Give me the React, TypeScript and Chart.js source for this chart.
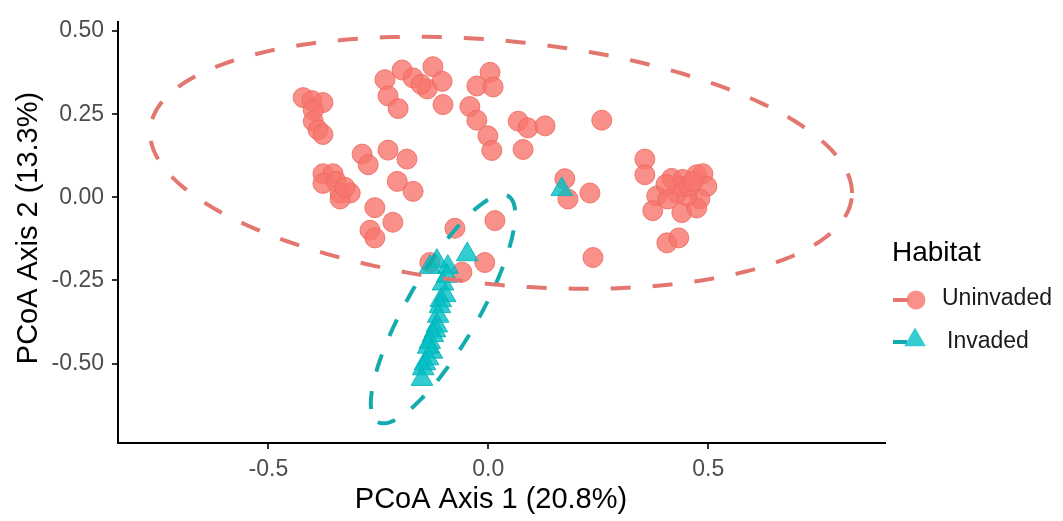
import React, { useEffect, useRef } from 'react';
import { Chart, registerables } from 'chart.js';

Chart.register(...registerables);

const SERIES = ['Uninvaded', 'Invaded'];
const LEGEND_TITLE = 'Habitat';
const X_TITLE = 'PCoA Axis 1 (20.8%)';
const Y_TITLE = 'PCoA Axis 2 (13.3%)';

const UNINVADED_X = [
  -0.421, -0.401, -0.376, -0.398, -0.398, -0.387, -0.376,
  -0.235, -0.196, -0.171, -0.139, -0.126, -0.105, -0.103, -0.228, -0.205,
  0.004, -0.026, 0.011, -0.042, -0.026, -0.001, 0.008, 0.068, 0.09, 0.129, 0.079, 0.258, -0.153,
  -0.287, -0.273, -0.228, -0.185, -0.376, -0.353, -0.376, -0.337, -0.314, -0.337, -0.207, -0.171,
  -0.258, -0.217, -0.269, -0.258, -0.076, 0.015, -0.008, -0.06, -0.133, -0.346, -0.326,
  0.174, 0.181, 0.231, 0.238, 0.356, 0.356,
  0.383, 0.374, 0.44, 0.406, 0.433, 0.417, 0.442, 0.474, 0.488, 0.497, 0.481, 0.474,
  0.452, 0.429, 0.408, 0.436, 0.458, 0.404, 0.465,
];
const UNINVADED_Y = [
  0.3, 0.291, 0.285, 0.262, 0.229, 0.203, 0.189,
  0.354, 0.383, 0.359, 0.326, 0.393, 0.349, 0.279, 0.305, 0.267,
  0.376, 0.335, 0.332, 0.273, 0.232, 0.185, 0.141, 0.229, 0.209, 0.215, 0.144, 0.232, 0.34,
  0.13, 0.098, 0.142, 0.115, 0.071, 0.071, 0.042, 0.013, 0.013, -0.005, 0.048, 0.018,
  -0.031, -0.075, -0.099, -0.122, -0.093, -0.07, -0.196, -0.225, -0.196, 0.048, 0.03,
  0.056, -0.005, 0.013, -0.181, 0.115, 0.068,
  0.004, -0.04, -0.046, -0.137, -0.122, 0.057, 0.054, 0.068, 0.071, 0.033, -0.005, -0.032,
  0.004, 0.013, -0.005, 0.033, 0.033, 0.039, 0.048,
];
const INVADED_X = [
  0.167, -0.048, -0.117, -0.092, -0.133, -0.094, -0.103, -0.098, -0.108, -0.11, -0.114,
  -0.117, -0.121, -0.126, -0.133, -0.128, -0.137, -0.137, -0.144, -0.148, -0.151,
];
const INVADED_Y = [
  0.024, -0.172, -0.192, -0.21, -0.21, -0.237, -0.26, -0.295, -0.31, -0.328, -0.357,
  -0.386, -0.401, -0.415, -0.436, -0.465, -0.45, -0.485, -0.5, -0.515, -0.547,
];

// 95% ellipses: [centre x, centre y, x·cos, x·sin, y·cos, y·sin]
const UNINVADED_ELLIPSE = [0.029, 0.104, 0.798, 0, -0.091, 0.368];
const INVADED_ELLIPSE = [-0.103, -0.336, -0.148, 0.071, -0.34, -0.052];

const X_TICKS = [-0.5, 0, 0.5];
const Y_TICKS = [-0.5, -0.25, 0, 0.25, 0.5];
const X_RANGE = [-0.842, 0.902];
const Y_RANGE = [-0.739, 0.528];

const FONT = '"Liberation Sans", Arial, Helvetica, sans-serif';
const RED_FILL = 'rgba(248,118,109,0.8)';
const RED_EDGE = 'rgba(236,104,96,0.85)';
const TEAL_FILL = 'rgba(0,191,196,0.8)';
const TEAL_EDGE = 'rgba(0,178,183,0.85)';
const RED_LINE = '#e3776f';
const TEAL_LINE = '#13abae';

function ellipsePoints(p: number[]) {
  const pts: { x: number; y: number }[] = [];
  const n = 240;
  for (let i = 0; i <= n; i++) {
    const t = (i / n) * Math.PI * 2;
    pts.push({
      x: p[0] + p[2] * Math.cos(t) + p[3] * Math.sin(t),
      y: p[1] + p[4] * Math.cos(t) + p[5] * Math.sin(t),
    });
  }
  return pts;
}

function zip(xs: number[], ys: number[]) {
  return xs.map((x, i) => ({ x, y: ys[i] }));
}

const overlayPlugin = {
  id: 'overlay',
  afterDraw(chart: any) {
    const ctx = chart.ctx as CanvasRenderingContext2D;
    ctx.save();
    ctx.fillStyle = '#000';
    ctx.font = `29px ${FONT}`;
    ctx.textAlign = 'center';
    ctx.textBaseline = 'alphabetic';
    ctx.fillText(X_TITLE, 491, 508);
    ctx.save();
    ctx.translate(37, 228);
    ctx.rotate(-Math.PI / 2);
    ctx.fillText(Y_TITLE, 0, 0);
    ctx.restore();

    // legend
    ctx.textAlign = 'left';
    ctx.font = `28px ${FONT}`;
    ctx.fillText(LEGEND_TITLE, 892, 261);
    ctx.font = `23px ${FONT}`;
    ctx.fillStyle = '#1a1a1a';
    ctx.fillText(SERIES[0], 942, 305);
    ctx.fillText(SERIES[1], 947, 348);

    ctx.lineWidth = 4;
    ctx.strokeStyle = RED_LINE;
    ctx.beginPath();
    ctx.moveTo(893, 300);
    ctx.lineTo(909, 300);
    ctx.stroke();
    ctx.fillStyle = RED_FILL;
    ctx.beginPath();
    ctx.arc(916, 300, 9.5, 0, Math.PI * 2);
    ctx.fill();

    ctx.strokeStyle = TEAL_LINE;
    ctx.beginPath();
    ctx.moveTo(893, 342);
    ctx.lineTo(907, 342);
    ctx.stroke();
    ctx.fillStyle = TEAL_FILL;
    const r = 12.5;
    const cx = 915;
    const cy = 340;
    ctx.beginPath();
    ctx.moveTo(cx, cy - r);
    ctx.lineTo(cx + r * Math.sin((2 * Math.PI) / 3), cy + r / 2);
    ctx.lineTo(cx - r * Math.sin((2 * Math.PI) / 3), cy + r / 2);
    ctx.closePath();
    ctx.fill();
    ctx.restore();
  },
};

export default function App() {
  const canvasRef = useRef<HTMLCanvasElement | null>(null);

  useEffect(() => {
    if (!canvasRef.current) return;
    const chart = new Chart(canvasRef.current, {
      type: 'scatter',
      data: {
        datasets: [
          {
            type: 'line',
            label: SERIES[0] + ' ellipse',
            data: ellipsePoints(UNINVADED_ELLIPSE),
            borderColor: RED_LINE,
            borderWidth: 4,
            borderDash: [20, 22],
            pointRadius: 0,
            fill: false,
            tension: 0,
          } as any,
          {
            type: 'line',
            label: SERIES[1] + ' ellipse',
            data: ellipsePoints(INVADED_ELLIPSE),
            borderColor: TEAL_LINE,
            borderWidth: 4,
            borderDash: [18, 20],
            pointRadius: 0,
            fill: false,
            tension: 0,
          } as any,
          {
            label: SERIES[1],
            data: zip(INVADED_X, INVADED_Y),
            pointStyle: 'triangle',
            pointRadius: 12.5,
            backgroundColor: TEAL_FILL,
            borderColor: TEAL_EDGE,
            borderWidth: 1,
          },
          {
            label: SERIES[0],
            data: zip(UNINVADED_X, UNINVADED_Y),
            pointStyle: 'circle',
            pointRadius: 10,
            backgroundColor: RED_FILL,
            borderColor: RED_EDGE,
            borderWidth: 1,
          },
        ],
      },
      options: {
        animation: false,
        responsive: true,
        maintainAspectRatio: false,
        layout: { padding: { top: 11, right: 178, bottom: 0, left: 0 } },
        plugins: { legend: { display: false }, tooltip: { enabled: false } },
        scales: {
          x: {
            type: 'linear',
            min: X_RANGE[0],
            max: X_RANGE[1],
            afterBuildTicks: (s: any) => {
              s.ticks = X_TICKS.map((v) => ({ value: v }));
            },
            afterFit: (s: any) => {
              s.height = 78;
            },
            grid: { drawOnChartArea: false, drawTicks: true, tickLength: 6, color: '#333', lineWidth: 2 },
            border: { display: true, color: '#000', width: 2 },
            ticks: {
              font: { family: FONT, size: 23 },
              color: '#4d4d4d',
              padding: 7,
              maxRotation: 0,
              autoSkip: false,
              callback: (v: any) => Number(v).toFixed(1),
            },
          },
          y: {
            type: 'linear',
            min: Y_RANGE[0],
            max: Y_RANGE[1],
            afterBuildTicks: (s: any) => {
              s.ticks = Y_TICKS.map((v) => ({ value: v }));
            },
            afterFit: (s: any) => {
              s.width = 118;
            },
            grid: { drawOnChartArea: false, drawTicks: true, tickLength: 6, color: '#333', lineWidth: 2 },
            border: { display: true, color: '#000', width: 2 },
            ticks: {
              font: { family: FONT, size: 23 },
              color: '#4d4d4d',
              padding: 8,
              autoSkip: false,
              callback: (v: any) => Number(v).toFixed(2),
            },
          },
        },
      },
      plugins: [overlayPlugin],
    });
    return () => chart.destroy();
  }, []);

  return (
    <div style={{ position: 'absolute', left: 0, top: 0, width: 1063, height: 521, background: '#fff' }}>
      <canvas ref={canvasRef} />
    </div>
  );
}
